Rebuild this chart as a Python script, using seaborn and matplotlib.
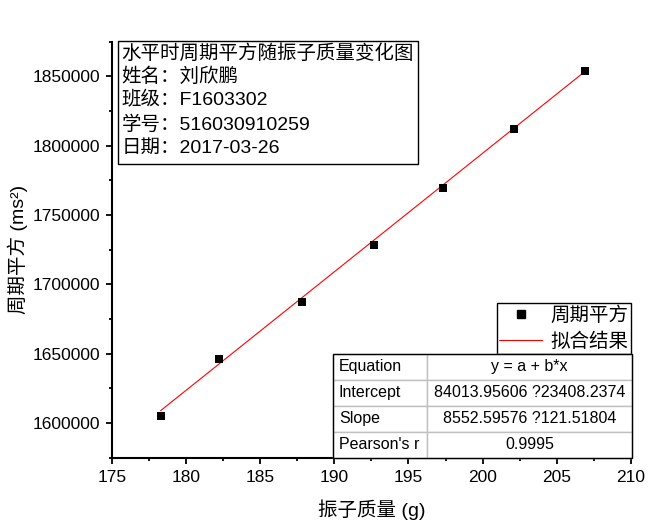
import numpy as np
import pandas as pd
import matplotlib
matplotlib.use('Agg')
import matplotlib.pyplot as plt
import seaborn as sns
from matplotlib.patches import Rectangle
from matplotlib.lines import Line2D
from matplotlib.ticker import MultipleLocator

# data
mass_g = [178.3, 182.2, 187.8, 192.7, 197.3, 202.1, 206.9]
period_sq = [1605000, 1646400, 1687000, 1728700, 1769600, 1811800, 1853600]

# linear fit results shown in the table
fit_a = 84013.95606
fit_b = 8552.59576
table_rows = ['Equation', 'Intercept', 'Slope', "Pearson's r"]
table_vals = ['y = a + b*x', '84013.95606 ?23408.2374', '8552.59576 ?121.51804', '0.9995']

info_lines = ['水平时周期平方随振子质量变化图', '姓名：刘欣鹏', '班级：F1603302',
              '学号：516030910259', '日期：2017-03-26']

sns.set_style('ticks', {'axes.edgecolor': 'black', 'xtick.color': 'black',
                        'ytick.color': 'black', 'text.color': 'black',
                        'axes.labelcolor': 'black'})
fonts = ['Liberation Sans', 'Noto Sans CJK SC', 'DejaVu Sans']
plt.rcParams['font.family'] = fonts

df = pd.DataFrame({'mass': mass_g, 'tsq': period_sq})
x_line = np.array([min(mass_g), max(mass_g)])
fit_df = pd.DataFrame({'mass': x_line, 'tsq': fit_a + fit_b * x_line})

fig = plt.figure(figsize=(6.66, 5.2), dpi=100)
ax = fig.add_axes([0.1677, 0.1198, 0.7797, 0.80])

sns.lineplot(data=fit_df, x='mass', y='tsq', ax=ax, color='red', linewidth=0.8, zorder=2)
sns.scatterplot(data=df, x='mass', y='tsq', ax=ax, marker='s', s=40, color='black',
                edgecolor='black', linewidth=0, zorder=3)

ax.set_xlim(175, 210)
ax.set_ylim(1575000, 1875000)
ax.xaxis.set_major_locator(MultipleLocator(5))
ax.xaxis.set_minor_locator(MultipleLocator(2.5))
ax.yaxis.set_major_locator(MultipleLocator(50000))
ax.yaxis.set_minor_locator(MultipleLocator(25000))
ax.ticklabel_format(style='plain', useOffset=False)
sns.despine(ax=ax)
for s in ['left', 'bottom']:
    ax.spines[s].set_linewidth(1.5)
    ax.spines[s].set_color('black')
ax.tick_params(which='major', direction='out', length=4.5, width=1.3, labelsize=12.5,
               pad=4, colors='black')
ax.tick_params(which='minor', direction='out', length=2.5, width=1.3, colors='black')

ax.set_xlabel('振子质量 (g)', fontsize=14, labelpad=11, color='black')
ax.set_ylabel('周期平方 (ms²)', fontsize=14, labelpad=3, color='black')

# info box
ax.add_patch(Rectangle((0.0127, 0.7053), 0.5765, 0.2964, transform=ax.transAxes,
                       fill=False, edgecolor='black', linewidth=1.0, clip_on=False, zorder=4))
for i, line in enumerate(info_lines):
    ax.text(0.0193, 0.9728 - i * 0.0571, line, transform=ax.transAxes, fontsize=14,
            ha='left', va='center', color='black', zorder=5)

# legend
handles = [Line2D([], [], marker='s', color='black', linestyle='none', markersize=6),
           Line2D([], [], color='red', linewidth=0.8)]
leg = ax.legend(handles, ['周期平方', '拟合结果'], loc='lower right',
                bbox_to_anchor=(1.0, 0.2493), borderaxespad=0, fontsize=14,
                fancybox=False, framealpha=1, edgecolor='black', handlelength=2.2,
                handletextpad=0.4, labelspacing=0.4, borderpad=0.15)
leg.get_frame().set_linewidth(1.0)
for t in leg.get_texts():
    t.set_color('black')

# fit result table
cell_text = [[r, v] for r, v in zip(table_rows, table_vals)]
tbl = ax.table(cellText=cell_text, bbox=[0.4267, 0.0, 0.5746, 0.2493],
               colWidths=[0.315, 0.685], edges='closed', zorder=6)
tbl.auto_set_font_size(False)
tbl.set_fontsize(11.5)
for (r, c), cell in tbl.get_celld().items():
    cell.set_edgecolor('#c0c0c0')
    cell.set_linewidth(1.0)
    cell.get_text().set_color('black')
    if c == 0:
        cell.PAD = 0.06
        cell.get_text().set_ha('left')
        cell._loc = 'left'
    else:
        cell.get_text().set_ha('center')
        cell._loc = 'center'
ax.add_patch(Rectangle((0.4267, 0.0), 0.5746, 0.2493, transform=ax.transAxes,
                       fill=False, edgecolor='black', linewidth=1.0, clip_on=False, zorder=7))

fig.savefig('out.png', dpi=100)
